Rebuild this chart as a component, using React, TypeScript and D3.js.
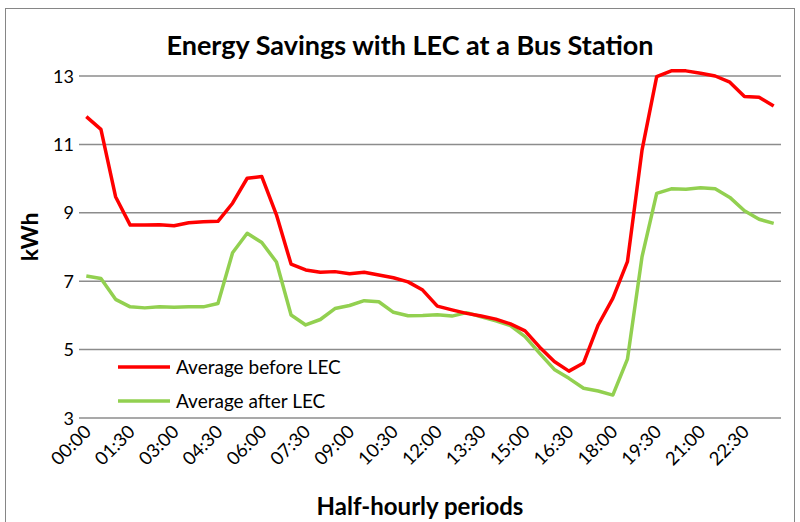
import React, { useEffect, useRef } from 'react';
import * as d3 from 'd3';

const periods = [
  '00:00', '00:30', '01:00', '01:30', '02:00', '02:30', '03:00', '03:30',
  '04:00', '04:30', '05:00', '05:30', '06:00', '06:30', '07:00', '07:30',
  '08:00', '08:30', '09:00', '09:30', '10:00', '10:30', '11:00', '11:30',
  '12:00', '12:30', '13:00', '13:30', '14:00', '14:30', '15:00', '15:30',
  '16:00', '16:30', '17:00', '17:30', '18:00', '18:30', '19:00', '19:30',
  '20:00', '20:30', '21:00', '21:30', '22:00', '22:30', '23:00', '23:30',
];

const shownTicks = [
  '00:00', '01:30', '03:00', '04:30', '06:00', '07:30', '09:00', '10:30',
  '12:00', '13:30', '15:00', '16:30', '18:00', '19:30', '21:00', '22:30',
];

const beforeLEC = [
  11.81, 11.44, 9.47, 8.64, 8.64, 8.65, 8.62, 8.71, 8.74, 8.75, 9.28, 10.01,
  10.06, 8.94, 7.5, 7.33, 7.26, 7.28, 7.22, 7.26, 7.18, 7.1, 6.98, 6.74,
  6.27, 6.16, 6.06, 5.98, 5.89, 5.75, 5.55, 5.07, 4.65, 4.37, 4.61, 5.72,
  6.5, 7.57, 10.84, 12.98, 13.15, 13.15, 13.08, 13.0, 12.82, 12.4, 12.38, 12.12,
];

const afterLEC = [
  7.15, 7.08, 6.47, 6.25, 6.22, 6.25, 6.24, 6.25, 6.25, 6.35, 7.83, 8.4,
  8.13, 7.56, 6.01, 5.72, 5.88, 6.2, 6.29, 6.43, 6.4, 6.09, 5.99, 6.0,
  6.02, 5.98, 6.08, 5.96, 5.84, 5.7, 5.38, 4.89, 4.42, 4.16, 3.87, 3.79,
  3.67, 4.72, 7.72, 9.57, 9.7, 9.69, 9.73, 9.7, 9.45, 9.06, 8.81, 8.69,
];

const yTicks = [3, 5, 7, 9, 11, 13];

const FONT = 'Lato, "Open Sans", sans-serif';

const App = () => {
  const svgRef = useRef<SVGSVGElement>(null);

  useEffect(() => {
    const svg = d3.select(svgRef.current);
    svg.selectAll('*').remove();

    const left = 79, right = 781, top = 76, bottom = 418;

    // outer frame
    svg.append('rect')
      .attr('x', 5.5).attr('y', 8.5)
      .attr('width', 789).attr('height', 530)
      .attr('fill', 'white')
      .attr('stroke', '#868686')
      .attr('stroke-width', 1);

    const x = d3.scalePoint<string>()
      .domain(periods)
      .range([left, right])
      .padding(0.5);

    const y = d3.scaleLinear()
      .domain([3, 13])
      .range([bottom, top]);

    // gridlines
    svg.append('g')
      .selectAll('line')
      .data(yTicks)
      .enter().append('line')
      .attr('x1', left).attr('x2', right)
      .attr('y1', d => y(d)).attr('y2', d => y(d))
      .attr('stroke', '#8c8c8c')
      .attr('stroke-width', 1.5);

    // y labels
    svg.append('g')
      .selectAll('text')
      .data(yTicks)
      .enter().append('text')
      .attr('x', 74)
      .attr('y', d => y(d) + 6.5)
      .attr('text-anchor', 'end')
      .style('font-family', FONT)
      .style('font-size', '18px')
      .text(d => d);

    // x labels
    svg.append('g')
      .selectAll('text')
      .data(shownTicks)
      .enter().append('text')
      .attr('text-anchor', 'end')
      .attr('transform', d => `translate(${(x(d) as number) + 6},${433}) rotate(-45)`)
      .style('font-family', FONT)
      .style('font-size', '18.5px')
      .text(d => d);

    const line = d3.line<number>()
      .x((_, i) => x(periods[i]) as number)
      .y(d => y(d));

    svg.append('path')
      .datum(afterLEC)
      .attr('fill', 'none')
      .attr('stroke', '#92d050')
      .attr('stroke-width', 3.5)
      .attr('stroke-linejoin', 'round')
      .attr('d', line);

    svg.append('path')
      .datum(beforeLEC)
      .attr('fill', 'none')
      .attr('stroke', '#ff0000')
      .attr('stroke-width', 3.5)
      .attr('stroke-linejoin', 'round')
      .attr('d', line);

    // legend
    const legendItems = [
      { label: 'Average before LEC', color: '#ff0000', y: 367 },
      { label: 'Average after LEC', color: '#92d050', y: 401 },
    ];
    const legend = svg.append('g');
    legendItems.forEach(item => {
      legend.append('line')
        .attr('x1', 118).attr('x2', 170)
        .attr('y1', item.y).attr('y2', item.y)
        .attr('stroke', item.color)
        .attr('stroke-width', 3.5);
      legend.append('text')
        .attr('x', 176).attr('y', item.y + 6.5)
        .style('font-family', FONT)
        .style('font-size', '19px')
        .text(item.label);
    });

    // titles
    svg.append('text')
      .attr('x', 410).attr('y', 55)
      .attr('text-anchor', 'middle')
      .style('font-family', FONT)
      .style('font-size', '27px')
      .style('font-weight', 'bold')
      .text('Energy Savings with LEC at a Bus Station');

    svg.append('text')
      .attr('transform', `translate(38,${(top + bottom) / 2 - 10}) rotate(-90)`)
      .attr('text-anchor', 'middle')
      .style('font-family', FONT)
      .style('font-size', '23px')
      .style('font-weight', 'bold')
      .text('kWh');

    svg.append('text')
      .attr('x', 420).attr('y', 515)
      .attr('text-anchor', 'middle')
      .style('font-family', FONT)
      .style('font-size', '24px')
      .style('font-weight', 'bold')
      .text('Half-hourly periods');
  }, []);

  return (
    <svg
      ref={svgRef}
      width={800}
      height={522}
      style={{ position: 'absolute', left: 0, top: 0, background: 'white' }}
    />
  );
};

export default App;
